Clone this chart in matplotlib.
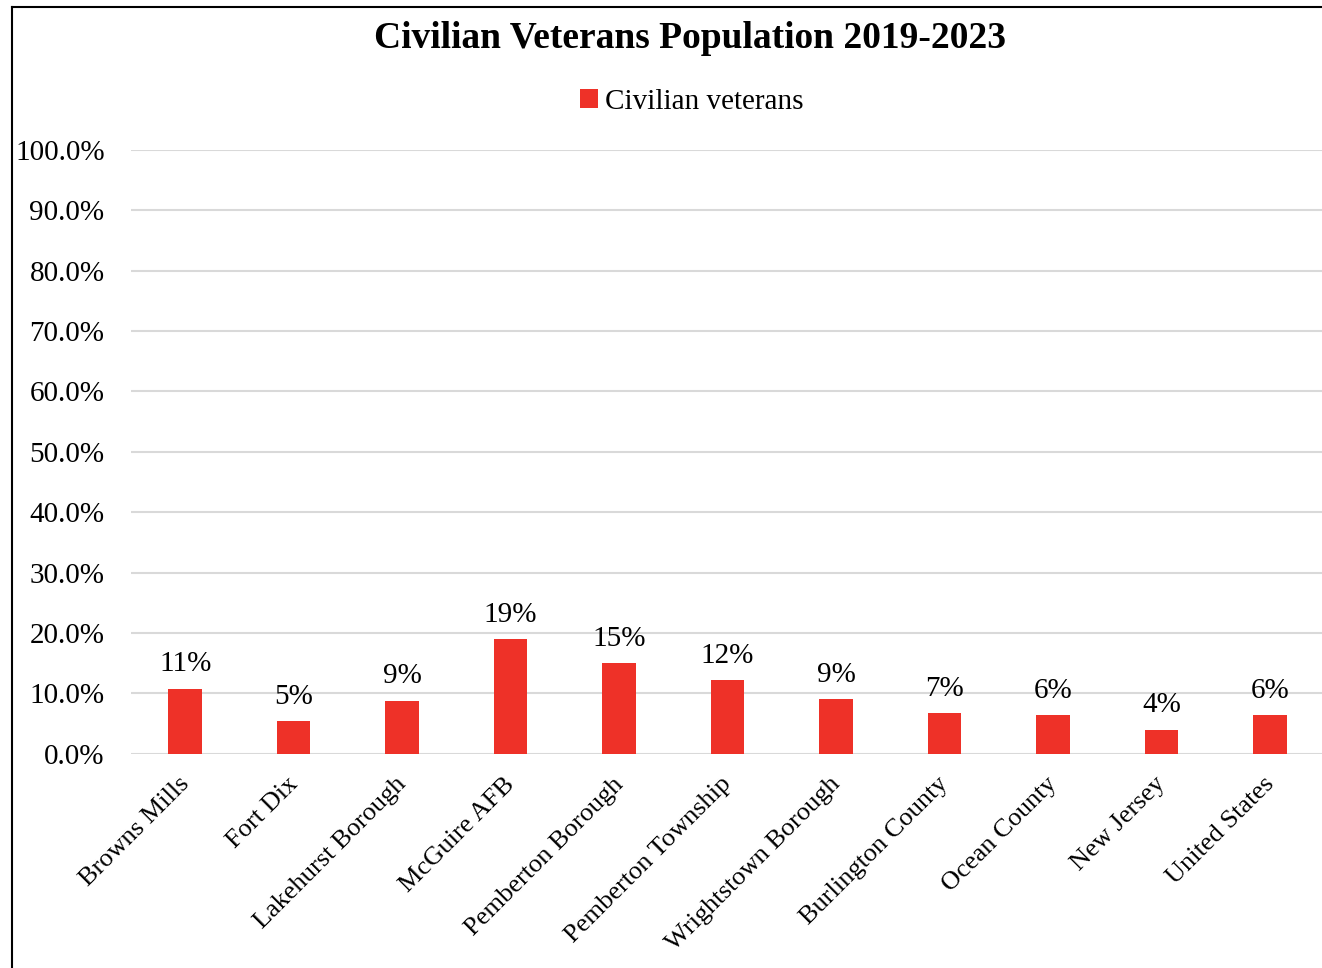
import matplotlib.pyplot as plt
import matplotlib.transforms as mtransforms
from matplotlib.lines import Line2D
from matplotlib.ticker import FuncFormatter

plt.rcParams['font.family'] = ['Liberation Serif', 'DejaVu Serif']

places = ["Browns Mills", "Fort Dix", "Lakehurst Borough", "McGuire AFB",
          "Pemberton Borough", "Pemberton Township", "Wrightstown Borough",
          "Burlington County", "Ocean County", "New Jersey", "United States"]
veterans = [10.8, 5.4, 8.8, 19.0, 15.0, 12.2, 9.0, 6.7, 6.4, 4.0, 6.4]
yticks = [0, 10, 20, 30, 40, 50, 60, 70, 80, 90, 100]

W, H = 1322, 968
fig = plt.figure(figsize=(W / 100, H / 100), dpi=100)
ax = fig.add_axes([131 / W, (H - 753.7) / H, (1324 - 131) / W, (753.7 - 150) / H])

x = range(len(places))
ax.bar(x, veterans, width=0.31, color='#EE3128', label='Civilian veterans', zorder=3)

for xi, v in zip(x, veterans):
    ax.annotate(f"{v:.0f}%", (xi, v), xytext=(0, 8), textcoords='offset points',
                ha='center', va='bottom', fontsize=21)

ax.set_xlim(-0.5, len(places) - 0.5)
ax.set_ylim(0, 100)
ax.set_yticks(yticks)
ax.yaxis.set_major_formatter(FuncFormatter(lambda v, p: f"{v:.1f}%"))
ax.grid(axis='y', color='#d9d9d9', linewidth=1.5, zorder=0)
for s in ax.spines.values():
    s.set_visible(False)
ax.tick_params(axis='both', length=0)
ax.tick_params(axis='y', pad=19, labelsize=21)
ax.set_xticks(list(x))
ax.set_xticklabels(places, rotation=45, ha='right', va='top', rotation_mode='anchor',
                   fontsize=19)
ax.tick_params(axis='x', pad=14)
shift = mtransforms.ScaledTranslation(-5 / 72, 0, fig.dpi_scale_trans)
for lbl in ax.get_xticklabels():
    lbl.set_transform(lbl.get_transform() + shift)

fig.text(690 / W, 1 - 38 / H, "Civilian Veterans Population 2019-2023",
         ha='center', va='center', fontsize=27, fontweight='bold')
fig.legend(loc='center', bbox_to_anchor=(692 / W, 1 - 102 / H), frameon=False,
           fontsize=21, handlelength=0.6, handleheight=0.6, handletextpad=0.25)

# outer frame (only left and top edges visible)
fig.add_artist(Line2D([11.5 / W, 11.5 / W], [0, 1 - 6.5 / H], color='black',
                      linewidth=1.5, transform=fig.transFigure))
fig.add_artist(Line2D([11.5 / W, 1], [1 - 6.5 / H, 1 - 6.5 / H], color='black',
                      linewidth=1.5, transform=fig.transFigure))

fig.savefig('out.png', dpi=100)
